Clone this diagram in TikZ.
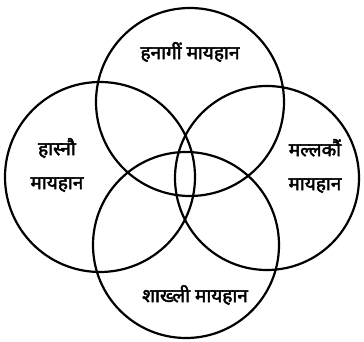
\documentclass[tikz,border=0pt]{standalone}
\usepackage{fontspec}
\newfontfamily\deva[Script=Devanagari,FakeBold=2.5]{Noto Sans}
\begin{document}
\begin{tikzpicture}[x=1pt,y=-1pt,
  ring/.style={draw=black,line width=2.2pt},
  lbl/.style={font=\deva\fontsize{19}{34}\selectfont,align=center,inner sep=0pt}]
\useasboundingbox (0,0) rectangle (364,342);
\fill[white] (0,0) rectangle (364,342);
\coordinate (ct) at (190,102);
\coordinate (cl) at (100,177);
\coordinate (cr) at (267,178);
\coordinate (cb) at (186,245);
\draw[ring] (ct) circle (94);
\draw[ring] (cl) circle (95);
\draw[ring] (cr) circle (92);
\draw[ring] (cb) circle (93);
\node[lbl] (t) at (190,52) {हनागीं मायहान};
\node[lbl] (l) at (57,165) {हास्नौ\\मायहान};
\node[lbl] (r) at (315,166) {मल्लकौं\\मायहान};
\node[lbl] (b) at (195,295) {शाख्ली मायहान};
\end{tikzpicture}
\end{document}
